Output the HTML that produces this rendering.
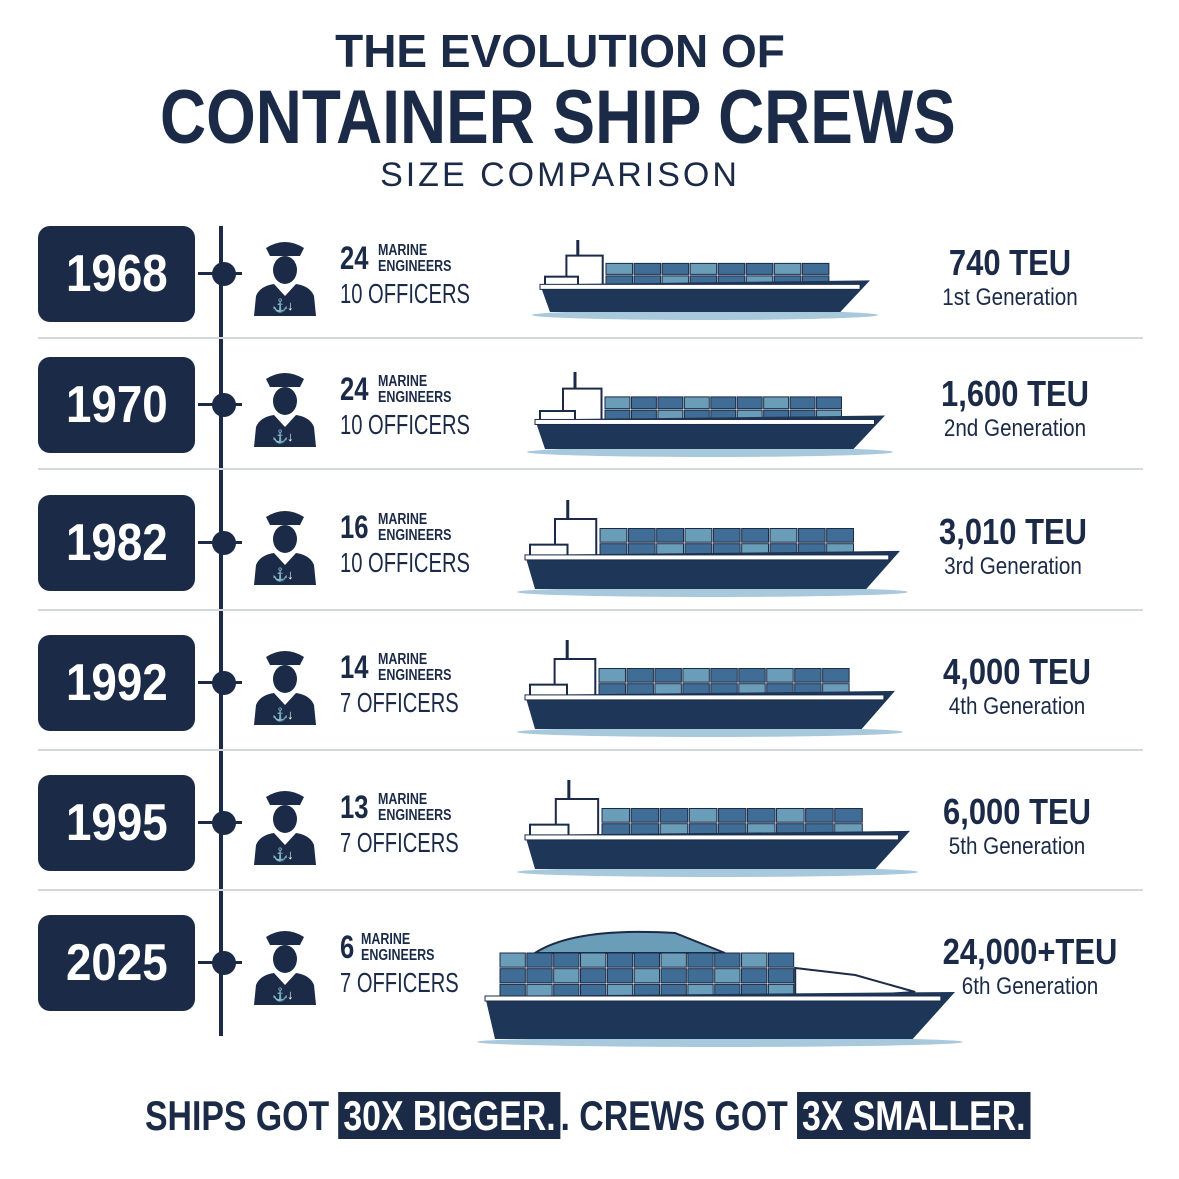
<!DOCTYPE html>
<html><head><meta charset="utf-8">
<style>
body{margin:0;background:#fff;}
#w{position:relative;width:1179px;height:1179px;overflow:hidden;background:#fff;font-family:"Liberation Sans",sans-serif;color:#1b2a47;}
.t{position:absolute;white-space:nowrap;transform-origin:left top;}
.yb{position:absolute;left:38px;width:157px;height:96px;background:#1b2a47;border-radius:12px;color:#fff;font-weight:bold;font-size:52px;display:flex;align-items:center;justify-content:center;}
.yb span{display:inline-block;transform:scaleX(0.88);}
.div{position:absolute;left:38px;width:1105px;height:2px;background:#d4d7dc;}
.dot{position:absolute;left:212px;width:24px;height:24px;border-radius:50%;background:#1b2a47;}
.tick{position:absolute;left:198px;width:44px;height:3px;background:#1b2a47;}
.hl{background:#1b2a47;color:#fff;padding:0 6px;}
</style></head><body><div id="w">
<div class="t" style="left:0;width:1120px;text-align:center;top:24px;font-size:46px;font-weight:bold;">THE EVOLUTION OF</div>
<div class="t" style="left:160px;top:74px;font-size:76px;font-weight:bold;transform:scaleX(0.84)">CONTAINER SHIP CREWS</div>
<div class="t" style="left:0;width:1120px;text-align:center;top:156px;font-size:34px;letter-spacing:3px;">SIZE COMPARISON</div>
<div style="position:absolute;left:219px;top:226px;width:4px;height:810px;background:#1b2a47"></div>
<div id="rows"></div>
<div class="t" style="left:145px;top:1092px;font-size:42px;font-weight:bold;transform:scaleX(0.805)">SHIPS GOT <span class="hl">30X BIGGER.</span>. CREWS GOT <span class="hl">3X SMALLER.</span></div>
</div>
<script>
var R=[["1968","24","10 OFFICERS","740 TEU","1st Generation",226,540,870,240,318],
["1970","24","10 OFFICERS","1,600 TEU","2nd Generation",357,535,885,372,455],
["1982","16","10 OFFICERS","3,010 TEU","3rd Generation",495,525,900,500,595],
["1992","14","7 OFFICERS","4,000 TEU","4th Generation",635,525,895,640,735],
["1995","13","7 OFFICERS","6,000 TEU","5th Generation",775,525,910,780,875],
["2025","6","7 OFFICERS","24,000+TEU","6th Generation",915,485,955,925,1045]];
var h="";
R.forEach(function(r,i){
var y=r[5];
h+='<div class="yb" style="top:'+y+'px"><span>'+r[0]+'</span></div>';
if(i<5)h+='<div class="div" style="top:'+(y+111+(i>1?3:0))+'px"></div>';
h+='<div class="tick" style="top:'+(y+46)+'px"></div><div class="dot" style="top:'+(y+36)+'px"></div>';
h+='<svg style="position:absolute;left:252px;top:'+(y+10)+'px" width="66" height="80" viewBox="0 0 66 80"><path d="M14 12 Q33 0 52 12 L48 20 L18 20Z" fill="#1b2a47"/><rect x="18" y="20" width="30" height="4" fill="#fff"/><ellipse cx="33" cy="34" rx="12" ry="14" fill="#1b2a47"/><path d="M2 80 L4 60 Q8 50 22 48 L33 60 L44 48 Q58 50 62 60 L64 80Z" fill="#1b2a47"/><text x="20" y="74" font-size="13" fill="#fff">⚓</text><text x="35" y="74" font-size="13" fill="#fff">↓</text></svg>';
h+='<div class="t" style="left:340px;top:'+(y+14)+'px;font-size:32px;font-weight:bold;transform:scaleX(0.8)">'+r[1]+'</div>';
h+='<div class="t" style="left:'+(r[1].length>1?378:361)+'px;top:'+(y+17)+'px;font-size:16px;line-height:16px;font-weight:bold;transform:scaleX(0.78)">MARINE<br>ENGINEERS</div>';
h+='<div class="t" style="left:340px;top:'+(y+52)+'px;font-size:28px;transform:scaleX(0.72)">'+r[2]+'</div>';
var cx=[1010,1015,1013,1017,1017,1030][i];
h+='<div class="t" style="left:'+(cx-150)+'px;width:300px;text-align:center;top:'+(y+16)+'px;font-size:36px;font-weight:bold;transform:scaleX(0.86);transform-origin:center top">'+r[3]+'</div>';
h+='<div class="t" style="left:'+(cx-150)+'px;width:300px;text-align:center;top:'+(y+58)+'px;font-size:24px;transform:scaleX(0.86);transform-origin:center top">'+r[4]+'</div>';
var x0=r[6],x1=r[7],t=r[8],b=r[9],W=x1-x0,H=b-t;
var s='<svg style="position:absolute;left:0;top:0" width="1179" height="1179">';
var deck=t+H*0.62,bot=b-6;
s+='<ellipse cx="'+(x0+W/2)+'" cy="'+(b-3)+'" rx="'+(W/2+8)+'" ry="5" fill="#a8c8dc"/>';
var cs,ce,ct,rows;
if(i<5){cs=x0+W*0.2;ce=x1-W*0.12;ct=t+H*0.3;rows=2;}else{cs=x0+15;ce=x0+W*0.66;ct=t+28;rows=3;deck=t+75;}
var ch=(deck-ct)/rows,n=Math.round((ce-cs)/28),cw=(ce-cs)/n;
if(i==5){s+='<path d="M'+(x0+50)+' '+ct+' Q'+(x0+90)+' '+(t+2)+' '+(x0+190)+' '+(t+8)+' L'+(x0+240)+' '+ct+'Z" fill="#6a9db8" stroke="#1b2a47" stroke-width="2"/>';s+='<path d="M'+ce+' '+(ct+15)+' L'+(ce+60)+' '+(ct+22)+' L'+(ce+120)+' '+(deck-8)+' L'+ce+' '+deck+'Z" fill="#fff" stroke="#1b2a47" stroke-width="2"/>';}
for(var a=0;a<n;a++)for(var c=0;c<rows;c++){s+='<rect x="'+(cs+a*cw)+'" y="'+(ct+c*ch)+'" width="'+(cw-1.5)+'" height="'+(ch-1.5)+'" fill="'+((a+c)%3?'#3f6d95':'#6a9db8')+'" stroke="#1b2a47" stroke-width="1"/>';}
if(i<5){var sx=x0+W*0.08;s+='<rect x="'+sx+'" y="'+(t+H*0.2)+'" width="'+(W*0.11)+'" height="'+(deck-t-H*0.2)+'" fill="#fff" stroke="#1b2a47" stroke-width="2"/><rect x="'+(sx+W*0.03)+'" y="'+t+'" width="3" height="'+(H*0.2)+'" fill="#1b2a47"/><rect x="'+(x0+5)+'" y="'+(deck-H*0.15)+'" width="'+(W*0.1)+'" height="'+(H*0.15)+'" fill="#fff" stroke="#1b2a47" stroke-width="2"/>';}
s+='<path d="M'+x0+' '+(deck-4)+' L'+x1+' '+(deck-8)+' L'+(x1-W*0.09)+' '+bot+' L'+(x0+10)+' '+bot+'Z" fill="#1e3658"/>';
s+='<rect x="'+x0+'" y="'+(deck-4)+'" width="'+(W*0.97)+'" height="5" fill="#fff" stroke="#1b2a47" stroke-width="1"/>';
s+='</svg>';h+=s;
});
document.getElementById('rows').innerHTML=h;
</script>
</body></html>
